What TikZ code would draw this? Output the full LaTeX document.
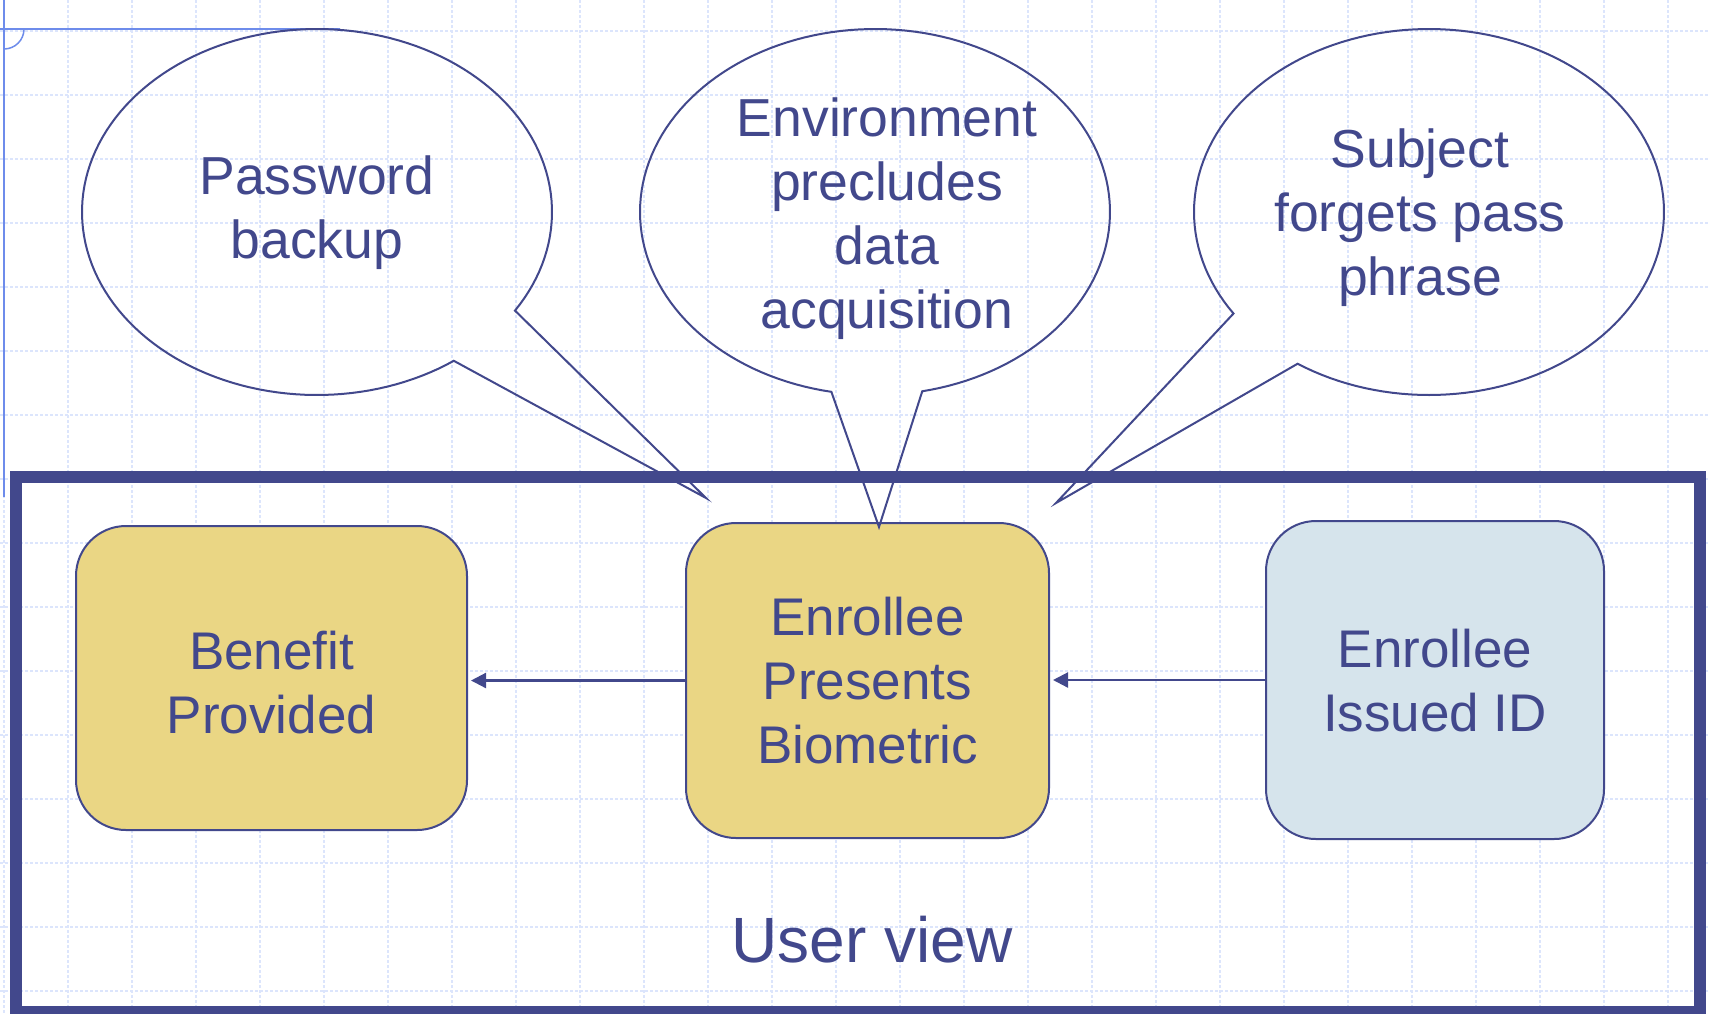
\documentclass[tikz,border=0pt]{standalone}
\usepackage{fontspec}
\setmainfont{Liberation Sans}
\usetikzlibrary{arrows.meta}
\definecolor{navy}{RGB}{66,72,140}
\definecolor{boxyellow}{RGB}{234,214,132}
\definecolor{boxblue}{RGB}{214,228,236}
\definecolor{gridblue}{RGB}{220,229,252}
\definecolor{guideblue}{RGB}{110,140,235}
\begin{document}
\begin{tikzpicture}[x=1pt,y=-1pt,
  gridline/.style={gridblue, line width=1.2pt, dash pattern=on 3pt off 2pt},
  guide/.style={guideblue, line width=1.5pt},
  userframe/.style={draw=navy, line width=12pt, inner sep=0pt},
  procbox/.style={draw=navy, line width=2pt, rounded corners=50pt, inner sep=0pt,
    align=center, text=navy, font=\fontsize{53}{64}\selectfont},
  callout/.style={draw=navy, line width=2pt, line join=miter},
  calltext/.style={align=center, text=navy, font=\fontsize{53.5}{64}\selectfont, inner sep=0pt},
  flow/.style={draw=navy, line width=2.2pt, -{Triangle[length=15pt,width=15pt]}, shorten >=3pt}
]
\useasboundingbox (0,0) rectangle (1710,1013);
\fill[white] (0,0) rectangle (1710,1013);
% grid
\foreach \i in {0,...,26} \draw[gridline] ({4+64*\i},0) -- ({4+64*\i},1013);
\foreach \j in {0,...,15} \draw[gridline] (0,{31+64*\j}) -- (1710,{31+64*\j});
% guides
\draw[guide] (0,29) -- (340,29);
\draw[guide] (4,0) -- (4,497);
\draw[guide] (24,29) arc[start angle=0, end angle=-90, radius=20pt];
% frame
\node[userframe, minimum width=1684pt, minimum height=535pt] (frame) at (857.5,744.5) {};
\node[text=navy, font=\fontsize{64}{77}\selectfont, inner sep=0pt] (uv) at (872,940) {User view};
% boxes
\node[procbox, fill=boxyellow, minimum width=391pt, minimum height=304pt] (left) at (271.5,678) {\rule{0pt}{48pt}Benefit\\Provided};
\node[procbox, fill=boxyellow, minimum width=363pt, minimum height=315pt] (mid) at (867.5,680.5) {Enrollee\\Presents\\Biometric};
\node[procbox, fill=boxblue, minimum width=338pt, minimum height=318pt] (right) at (1435,680) {\rule{0pt}{40pt}Enrollee\\Issued ID};
\draw[flow] (mid.west) -- (mid.west -| left.east);
\draw[flow] (right.west) -- (right.west -| mid.east);
% callouts
\draw[callout] plot[domain=54.4:392.6, samples=150] ({317+235*cos(\x)},{212+183*sin(\x)}) -- (706,498) -- cycle;
\draw[callout] plot[domain=100.7:438.4, samples=150] ({875+235*cos(\x)},{212+183*sin(\x)}) -- (879,527) -- cycle;
\draw[callout] plot[domain=146.3:484, samples=150] ({1429+235*cos(\x)},{212+183*sin(\x)}) -- (1056,503) -- cycle;
\node[calltext] (cpw) at (317,213) {Password\\backup};
\node[calltext] (cenv) at (887,219) {Environment\\precludes\\data\\acquisition};
\node[calltext] (csub) at (1420,218) {Subject\\forgets pass\\phrase};
\end{tikzpicture}
\end{document}
